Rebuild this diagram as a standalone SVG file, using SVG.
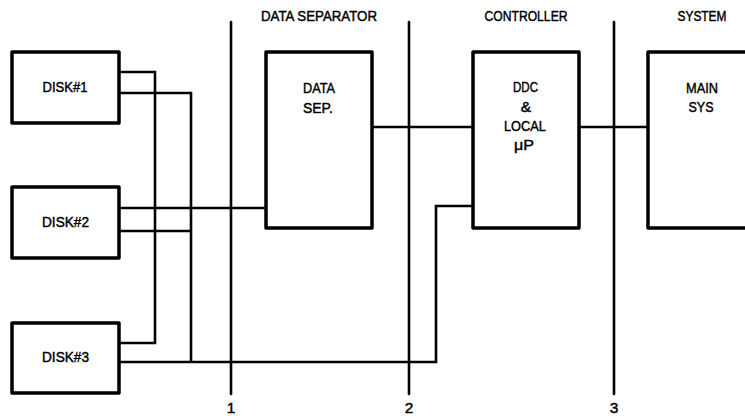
<svg xmlns="http://www.w3.org/2000/svg" width="745" height="416" viewBox="0 0 745 416">
<style>
.box{fill:#fff;stroke:#000;stroke-width:3.5;stroke-linejoin:round}
.open{fill:none;stroke:#000;stroke-width:3.5;stroke-linejoin:round}
.wire{fill:none;stroke:#000;stroke-width:2.6;stroke-linejoin:miter}
.div{stroke:#000;stroke-width:2.6;stroke-linecap:round}
text{font-family:"Liberation Sans",Arial,sans-serif;font-size:15.5px;fill:#000;stroke:#000;stroke-width:0.45;text-anchor:middle}
</style>
<rect width="745" height="416" fill="#fff"/>
<g id="connectors">
<path class="wire" d="M119 72 H155 V343 H119"/>
<path class="wire" d="M119 93 H191 V362"/>
<path class="wire" d="M119 362 H436 V206 H473"/>
<path class="wire" d="M119 208 H266"/>
<path class="wire" d="M119 231 H191"/>
<path class="wire" d="M372 127 H473"/>
<path class="wire" d="M579 127 H648"/>
</g>
<g id="dividers">
<line class="div" x1="231" y1="22" x2="231" y2="394"/>
<line class="div" x1="409" y1="22" x2="409" y2="394"/>
<line class="div" x1="614" y1="22" x2="614" y2="394"/>
<text x="231" y="413">1</text>
<text x="409" y="413">2</text>
<text x="614" y="413">3</text>
</g>
<g id="headers">
<text x="319" y="21" textLength="116" lengthAdjust="spacingAndGlyphs">DATA SEPARATOR</text>
<text x="526" y="21" textLength="83" lengthAdjust="spacingAndGlyphs">CONTROLLER</text>
<text x="702" y="21" textLength="49" lengthAdjust="spacingAndGlyphs">SYSTEM</text>
</g>
<g id="disk1">
<rect class="box" x="12" y="52" width="107" height="71"/>
<text x="65" y="92" textLength="45" lengthAdjust="spacingAndGlyphs">DISK#1</text>
</g>
<g id="disk2">
<rect class="box" x="12" y="187" width="107" height="71"/>
<text x="65.5" y="227" textLength="47" lengthAdjust="spacingAndGlyphs">DISK#2</text>
</g>
<g id="disk3">
<rect class="box" x="12" y="323" width="107" height="70"/>
<text x="65.5" y="362" textLength="47" lengthAdjust="spacingAndGlyphs">DISK#3</text>
</g>
<g id="datasep">
<rect class="box" x="266" y="52" width="106" height="176"/>
<text x="319" y="93" textLength="32" lengthAdjust="spacingAndGlyphs">DATA</text>
<text x="318" y="113" textLength="30" lengthAdjust="spacingAndGlyphs">SEP.</text>
</g>
<g id="ddc">
<rect class="box" x="473" y="52" width="106" height="176"/>
<text x="525.5" y="92" textLength="25" lengthAdjust="spacingAndGlyphs">DDC</text>
<text x="526" y="112">&amp;</text>
<text x="525" y="131" textLength="42" lengthAdjust="spacingAndGlyphs">LOCAL</text>
<text x="524" y="150" textLength="20" lengthAdjust="spacingAndGlyphs">μP</text>
</g>
<g id="mainsys">
<path class="open" d="M760 52 H648 V228 H760"/>
<text x="702" y="93" textLength="32" lengthAdjust="spacingAndGlyphs">MAIN</text>
<text x="701" y="112" textLength="25" lengthAdjust="spacingAndGlyphs">SYS</text>
</g>
</svg>
